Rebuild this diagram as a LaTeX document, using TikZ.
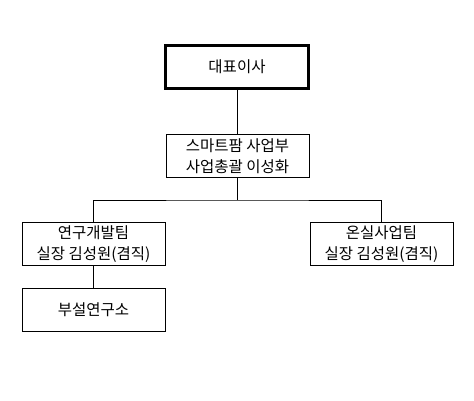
\documentclass[tikz,border=0pt]{standalone}
\usepackage{fontspec}
\newfontfamily\kr{Noto Sans CJK KR}
\begin{document}
\begin{tikzpicture}[x=1pt,y=-1pt,
  box/.style={draw=black,line width=1pt,fill=white,inner sep=0pt,
    minimum width=143pt,minimum height=43pt,align=center,
    font=\kr\fontsize{15.5pt}{20.5pt}\selectfont},
  topbox/.style={box,line width=3pt},
  conn/.style={draw=black,line width=1pt}]
\useasboundingbox[fill=white] (0,0) rectangle (474,401);
\node[topbox] (ceo) at (237,67) {대표이사};
\node[box] (sm) at (237.5,156) {스마트팜 사업부\\사업총괄 이성화};
\node[box] (rd) at (93.5,244) {연구개발팀\\실장 김성원(겸직)};
\node[box] (gh) at (381.5,244) {온실사업팀\\실장 김성원(겸직)};
\node[box] (lab) at (93.5,310) {부설연구소};
\coordinate (jn) at (237.5,200);
\draw[conn] (ceo.south -| sm.north) -- (sm.north);
\draw[conn] (sm.south) -- (jn);
\draw[conn] (rd.north) |- (jn) -| (gh.north);
\draw[conn] (rd.south) -- (lab.north);
\end{tikzpicture}
\end{document}
